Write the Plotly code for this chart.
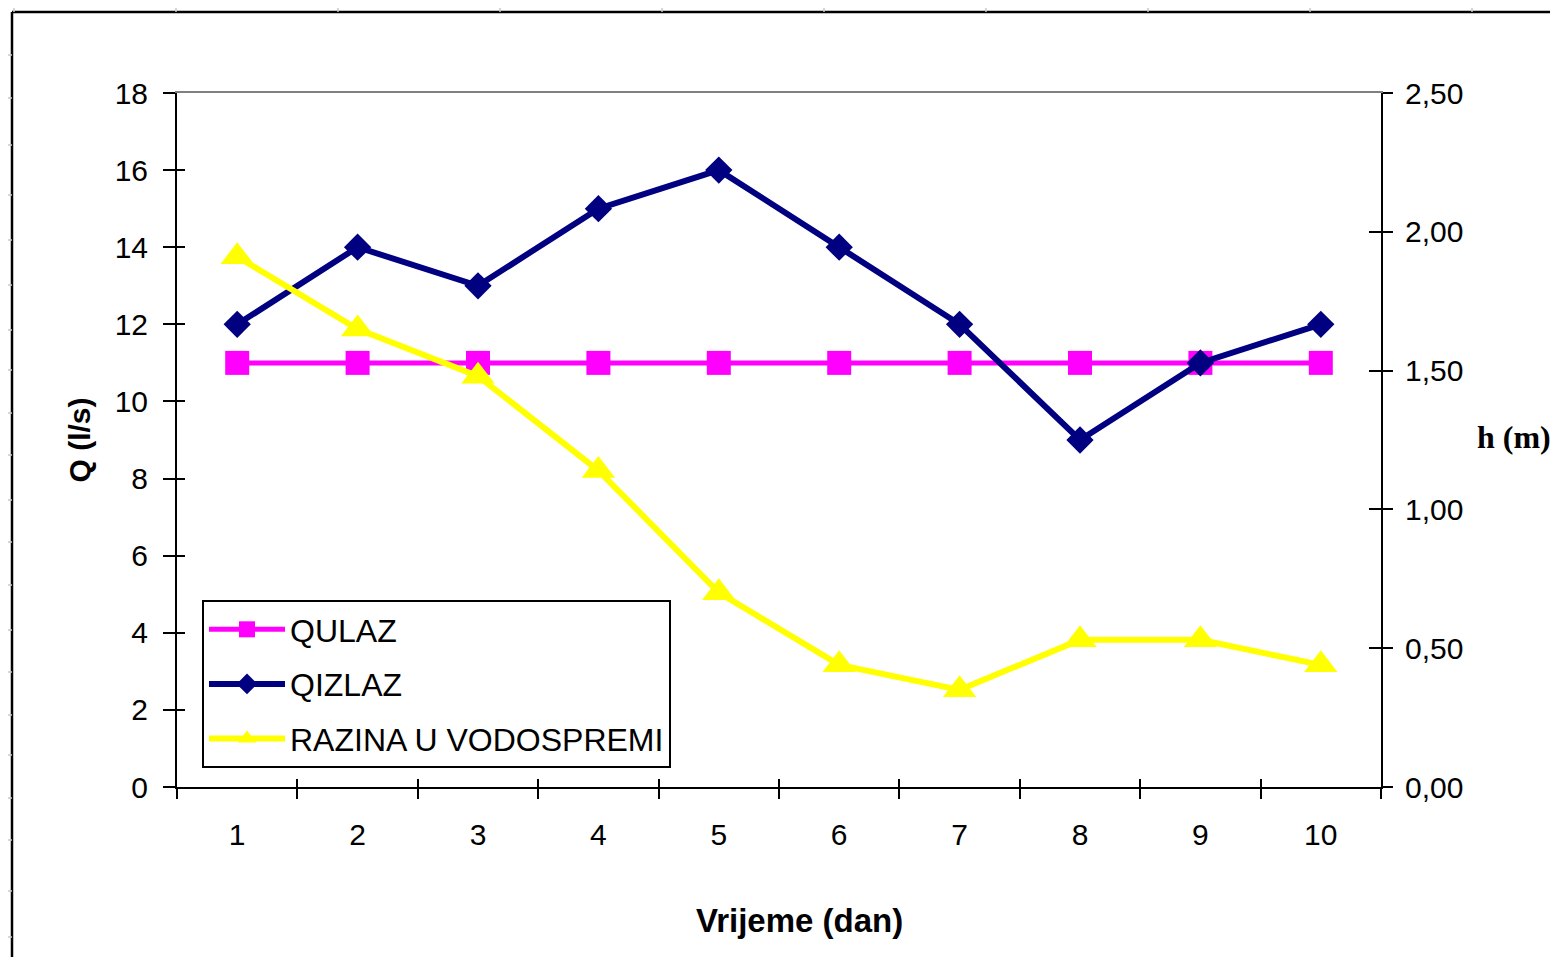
import plotly.graph_objects as go

# ---- data ----
days = [1, 2, 3, 4, 5, 6, 7, 8, 9, 10]
day_labels = ["1", "2", "3", "4", "5", "6", "7", "8", "9", "10"]
q_ulaz = [11, 11, 11, 11, 11, 11, 11, 11, 11, 11]
q_izlaz = [12, 14, 13, 15, 16, 14, 12, 9, 11, 12]
razina = [1.91, 1.65, 1.48, 1.14, 0.70, 0.44, 0.35, 0.53, 0.53, 0.44]
q_ticks = [0, 2, 4, 6, 8, 10, 12, 14, 16, 18]
h_ticks = [0.0, 0.5, 1.0, 1.5, 2.0, 2.5]

FONT = "Liberation Sans, Arial, sans-serif"
OFF = 8  # page body margin
W, H = 1550, 949
L, T = 177 - OFF, 93 - OFF
R, B = W - (1381 - OFF), H - (787 - OFF)
pw, ph = W - L - R, H - T - B


def px(xs):  # screen x -> paper
    return (xs - OFF - L) / pw


def py(ys):  # screen y -> paper
    return (H - B - (ys - OFF)) / ph


boundaries = [d - 0.5 for d in days] + [days[-1] + 0.5]
xr = [days[0] - 0.5, days[-1] + 0.5]
q_range = [0, 18]
h_range = [0, 2.5]

fig = go.Figure()
fig.add_trace(go.Scatter(
    x=days, y=q_ulaz, name="QULAZ", mode="lines+markers",
    line=dict(color="#FF00FF", width=5),
    marker=dict(symbol="square", size=24, color="#FF00FF"),
    legendgroup="a", xaxis="x", yaxis="y"))
fig.add_trace(go.Scatter(
    x=days, y=q_izlaz, name="QIZLAZ", mode="lines+markers",
    line=dict(color="#000080", width=6),
    marker=dict(symbol="diamond", size=21, color="#000080"),
    legendgroup="b", xaxis="x2", yaxis="y3"))
# transparent helper so the extra overlay axes get drawn
fig.add_trace(go.Scatter(
    x=days, y=razina, mode="lines", showlegend=False, hoverinfo="skip",
    line=dict(color="rgba(0,0,0,0)", width=1), xaxis="x3", yaxis="y4"))
fig.add_trace(go.Scatter(
    x=days, y=razina, name="RAZINA U VODOSPREMI", mode="lines+markers",
    line=dict(color="#FFFF00", width=6),
    marker=dict(symbol="triangle-up", size=29, color="#FFFF00"),
    legendgroup="c", xaxis="x4", yaxis="y2"))

tickfont = dict(family=FONT, size=30, color="black")
plain = dict(showgrid=False, zeroline=False)

shapes = []
# outer frame (top and left edges)
shapes.append(dict(type="line", xref="paper", yref="paper",
                   x0=px(12), x1=px(1570), y0=py(12), y1=py(12),
                   line=dict(color="black", width=2.5)))
shapes.append(dict(type="line", xref="paper", yref="paper",
                   x0=px(12), x1=px(12), y0=py(12), y1=py(970),
                   line=dict(color="black", width=2.5)))
# faint ruler ticks
for xt in [14 + 162 * k for k in range(10)]:
    shapes.append(dict(type="line", xref="paper", yref="paper",
                       x0=px(xt), x1=px(xt), y0=py(5), y1=py(12),
                       line=dict(color="#C8C8C8", width=1.5)))
for yt in [55, 98, 145, 195, 240, 285, 330, 370, 413, 455, 500, 542, 585,
           630, 672, 715, 755, 798, 840, 891, 937]:
    shapes.append(dict(type="line", xref="paper", yref="paper",
                       x0=px(5), x1=px(12), y0=py(yt), y1=py(yt),
                       line=dict(color="#C8C8C8", width=1.5)))

fig.update_layout(
    width=W, height=H,
    margin=dict(l=L, r=R, t=T, b=B, pad=0),
    paper_bgcolor="white", plot_bgcolor="white",
    separators=", ",
    font=dict(family=FONT, size=30, color="black"),
    showlegend=True,
    legend=dict(x=px(202), y=py(600), xanchor="left", yanchor="top",
                bordercolor="black", borderwidth=2, bgcolor="white",
                font=dict(family=FONT, size=32, color="black"),
                tracegroupgap=10, itemwidth=76),
    xaxis=dict(range=xr, tickmode="array", tickvals=days, ticktext=day_labels,
               ticks="", showline=True, linecolor="black", linewidth=2,
               tickfont=tickfont, ticklabelstandoff=20, **plain),
    xaxis2=dict(range=xr, overlaying="x", anchor="y", side="bottom",
                tickmode="array", tickvals=boundaries, ticks="outside",
                ticklen=11, tickwidth=2, tickcolor="black",
                showticklabels=False, showline=False, **plain),
    xaxis3=dict(range=xr, overlaying="x", anchor="y", side="bottom",
                tickmode="array", tickvals=boundaries, ticks="inside",
                ticklen=8, tickwidth=2, tickcolor="black",
                showticklabels=False, showline=False, **plain),
    xaxis4=dict(range=xr, overlaying="x", anchor="y", side="top",
                ticks="", showticklabels=False, showline=True,
                linecolor="#808080", linewidth=2, **plain),
    yaxis=dict(range=q_range, tickmode="array", tickvals=q_ticks,
               ticks="outside", ticklen=12, tickwidth=2, tickcolor="black",
               showline=True, linecolor="black", linewidth=2,
               tickfont=tickfont, ticklabelstandoff=9,
               title=dict(text="<b>Q (l/s)</b>", standoff=15,
                          font=dict(family=FONT, size=30, color="black")),
               **plain),
    yaxis3=dict(range=q_range, overlaying="y", anchor="x", side="left",
                tickmode="array", tickvals=q_ticks, ticks="inside",
                ticklen=8, tickwidth=2, tickcolor="black",
                showticklabels=False, showline=False, **plain),
    yaxis2=dict(range=h_range, overlaying="y", anchor="x", side="right",
                tickmode="array", tickvals=h_ticks, tickformat=".2f",
                ticks="outside", ticklen=10, tickwidth=2, tickcolor="black",
                showline=True, linecolor="black", linewidth=2,
                tickfont=tickfont, ticklabelstandoff=6, **plain),
    yaxis4=dict(range=h_range, overlaying="y", anchor="x", side="right",
                tickmode="array", tickvals=h_ticks, ticks="inside",
                ticklen=12, tickwidth=2, tickcolor="black",
                showticklabels=False, showline=False, **plain),
    shapes=shapes,
    annotations=[
        dict(text="<b>h (m)</b>", xref="paper", yref="paper",
             x=px(1514), y=py(437), xanchor="center", yanchor="middle",
             showarrow=False,
             font=dict(family="Liberation Serif, Times New Roman, serif",
                       size=32, color="black")),
        dict(text="<b>Vrijeme (dan)</b>", xref="paper", yref="paper",
             x=px(799), y=py(920), xanchor="center", yanchor="middle",
             showarrow=False,
             font=dict(family=FONT, size=33, color="black")),
    ],
)

fig.write_html("out.html")
